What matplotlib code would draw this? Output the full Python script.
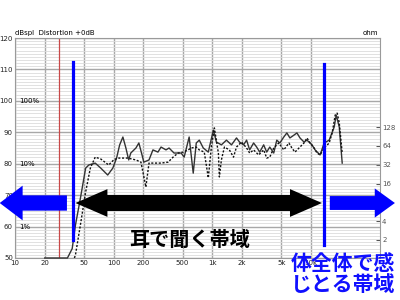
import numpy as np
import matplotlib.pyplot as plt

plt.rcParams['font.family'] = ['DejaVu Sans']
JP = ['Noto Sans CJK JP', 'DejaVu Sans']

# solid response curve (Hz, dBspl)
spl_freq = [20, 34, 38, 41, 46, 52, 56, 65, 74, 87, 98, 107, 115, 124, 133, 142,
            149, 168, 180, 193, 202, 228, 250, 281, 302, 339, 364, 409, 483, 518,
            582, 640, 687, 737, 809, 910, 1023, 1099, 1235, 1389, 1563, 1757, 1886,
            2071, 2223, 2388, 2618, 2812, 3019, 3311, 3556, 3818, 4188, 4498, 4830,
            5297, 5689, 6109, 6714, 7197, 7727, 8486, 9102, 10233, 10990, 12360,
            13580, 15270, 17180, 17990, 19320, 20700]
spl_db = [50, 50, 53, 60.5, 69, 78.6, 79.6, 80.2, 78.6, 76.4, 78.6, 81.8, 86, 88.5,
          85, 81.2, 83.4, 85, 86.6, 83, 80.5, 81.2, 84.4, 83.7, 85.3, 84.4, 85, 83.4,
          83.4, 82.1, 88.5, 77, 86.6, 87.5, 85, 83.7, 90.7, 86.9, 86, 87.5, 86, 88.2,
          86.9, 86, 87.5, 84.4, 86.6, 85.3, 83.7, 86, 83.7, 85.3, 83.4, 87.5, 86.6,
          88.5, 89.8, 88.2, 89.1, 89.8, 88.2, 86.9, 87.5, 86, 84.4, 82.8, 86.6, 87.5,
          91.7, 95.5, 91.7, 80.2]

# dotted response curve
dot_freq = [40, 41, 46, 52, 58, 65, 74, 89, 100, 110, 139, 168, 189, 212, 228, 256,
            302, 356, 400, 450, 506, 569, 611, 687, 737, 828, 910, 977, 1048, 1151,
            1178, 1235, 1325, 1489, 1637, 1757, 1977, 2223, 2388, 2618, 2946, 3311,
            3556, 3818, 4188, 4710, 5297, 5970, 6400, 6871, 7550, 8486, 9102, 9772,
            10740, 11510, 12360, 13580, 15270, 16380, 17580, 18400, 19320, 20700]
dot_db = [50, 51, 60.5, 71, 78.6, 82.1, 81.5, 79.6, 81.2, 81.8, 81.8, 81.2, 80.5, 72.6,
          80.2, 80.2, 80.2, 80.5, 82.1, 83.4, 83.7, 84.4, 85, 85.3, 84.4, 83.7, 75.5,
          85.3, 91.4, 83.4, 75.8, 81.2, 85.3, 84.4, 82.1, 85.3, 86.9, 85, 83.4, 84.4,
          82.8, 84.4, 81.8, 82.1, 85, 86.6, 84.4, 86.6, 85, 83.7, 85, 86.6, 88.2, 86.6,
          85, 83.4, 82.8, 85, 86.6, 89.8, 95.5, 96.1, 93, 83.4]

db_ticks = [50, 60, 70, 80, 90, 100, 110, 120]
pct_db = [60, 80, 100]
pct_labels = ['1%', '10%', '100%']
hz_ticks = [10, 20, 50, 100, 200, 500, 1000, 2000, 5000, 10000]
hz_labels = ['10', '20', '50', '100', '200', '500', '1k', '2k', '5k', '10k']
ohm_ticks = [2, 4, 8, 16, 32, 64, 128]

red_hz = 28
band_lo, band_hi = 39, 13500
arrow_db = 67.5

fig = plt.figure(figsize=(4, 3), dpi=100)
ax = fig.add_axes([0.0375, 0.14, 0.9125, 0.7333])
ax2 = ax.twinx()
ax.set_zorder(2)
ax.patch.set_visible(False)
ax2.set_zorder(1)
ax2.patch.set_facecolor('white')
ax2.patch.set_visible(True)

ax.set_xscale('log')
ax.set_xlim(10, 50000)
ax.set_ylim(50, 120)

# grid
minor_hz = [m * d for d in (10, 100, 1000, 10000) for m in range(1, 10)
            if m * d not in hz_ticks and m * d < 50000]
ax.set_xticks(hz_ticks)
ax.set_xticklabels(hz_labels)
ax.set_xticks(minor_hz, minor=True)
ax.set_yticks(db_ticks)
ax.set_yticks(np.arange(50, 121, 1), minor=True)
ax.grid(which='major', color='#a8a8a8', lw=1.0)
ax.grid(which='minor', color='#dcdcdc', lw=0.6)
ax.tick_params(which='both', length=0, labelsize=5, pad=1.5, colors='#222222')
for s in ax.spines.values():
    s.set_color('#9a9a9a')

ax2.set_yscale('log', base=2)
ax2.set_ylim(1.03, 3400)
ax2.set_yticks(ohm_ticks)
ax2.set_yticklabels([str(t) for t in ohm_ticks])
ax2.minorticks_off()
ax2.tick_params(direction='in', length=3, labelsize=5, pad=1.5, colors='#555555')
for s in ax2.spines.values():
    s.set_visible(False)

for d, t in zip(pct_db, pct_labels):
    ax.text(11, d, t, fontsize=5, va='center', ha='left')
ax.text(0, 1.01, 'dBspl  Distortion +0dB', transform=ax.transAxes, fontsize=5,
        va='bottom', ha='left')
ax.text(0.995, 1.01, 'ohm', transform=ax.transAxes, fontsize=5, va='bottom', ha='right')

ax.plot(spl_freq, spl_db, color='#333333', lw=1.0, clip_on=False, zorder=3)
ax.plot(dot_freq, dot_db, color='#111111', lw=1.0, ls=(0, (1.5, 1.2)), zorder=3)

ax.axvline(red_hz, color='#c84848', lw=0.9, zorder=2.5)
ax.plot([band_lo, band_lo], [112.4, 55.7], color='#0000ff', lw=2.3, zorder=4)
ax.plot([band_hi, band_hi], [111.7, 54.1], color='#0000ff', lw=2.3, zorder=4)


def arrow(tail, tip, color, hl, hw, tw):
    ax.annotate('', xy=(tip, arrow_db), xytext=(tail, arrow_db),
                arrowprops=dict(arrowstyle='simple,head_length=%g,head_width=%g,tail_width=%g'
                                % (hl, hw, tw),
                                mutation_scale=1, color=color, lw=0,
                                shrinkA=0, shrinkB=0),
                annotation_clip=False, zorder=10)


mid = np.sqrt(41 * 12900)
arrow(mid * 1.5, 41, 'black', 23, 20, 11.5)
arrow(mid / 1.5, 12900, 'black', 23, 20, 11.5)
arrow(33.6, 7.0, '#0000ff', 16.5, 25, 11)
arrow(15500, 70800, '#0000ff', 14.5, 21, 10)

ax.text(590, 56, '耳で聞く帯域', family=JP, fontweight='bold', fontsize=14.5,
        color='black', ha='center', va='center', zorder=11)
fig.text(0.727, 0.157, '体全体で感\nじとる帯域', family=JP, fontweight='bold',
         fontsize=15, color='#1010ff', ha='left', va='top', linespacing=1.0)

fig.savefig('out.png', dpi=100)
